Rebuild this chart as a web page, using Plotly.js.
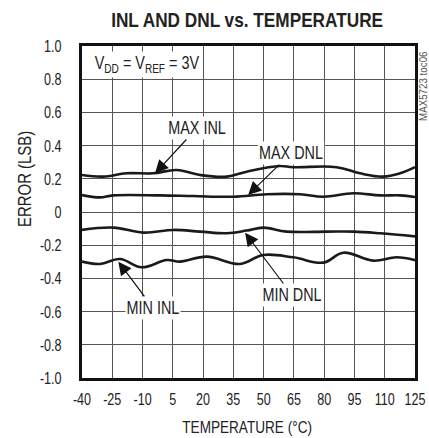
<!DOCTYPE html>
<html>
<head>
<meta charset="utf-8">
<script src="https://cdn.plot.ly/plotly-3.0.1.min.js"></script>
<style>html,body{margin:0;padding:0;background:#fff;}#chart{width:429px;height:438px;}</style>
</head>
<body>
<div id="chart"></div>
<script>
var maxInlT = [-40, -29.6, -17.9, -4.8, 6.9, 18.5, 31.7, 41.6, 58.1, 64.5, 86.2, 97.7, 109.1, 117.6, 125];
var maxInlV = [0.223, 0.213, 0.233, 0.233, 0.253, 0.223, 0.213, 0.243, 0.277, 0.27, 0.27, 0.233, 0.213, 0.233, 0.27];

var maxDnlT = [-40, -31.1, -24.5, -1.3, 15.2, 35.0, 51.5, 68.0, 79.6, 94.5, 107.7, 117.6, 125];
var maxDnlV = [0.102, 0.088, 0.10, 0.10, 0.096, 0.092, 0.107, 0.107, 0.092, 0.113, 0.10, 0.10, 0.09];

var minDnlT = [-40, -24.5, -9.6, 5.3, 18.5, 31.7, 41.6, 49.8, 61.4, 81.2, 94.5, 107.7, 125];
var minDnlV = [-0.108, -0.094, -0.124, -0.108, -0.118, -0.128, -0.112, -0.094, -0.118, -0.118, -0.118, -0.128, -0.147];

var minInlT = [-40, -31.1, -21.2, -10.4, 2.0, 8.6, 21.8, 38.3, 49.8, 64.7, 79.6, 89.5, 104.3, 115.9, 125];
var minInlV = [-0.299, -0.313, -0.283, -0.333, -0.289, -0.299, -0.269, -0.313, -0.259, -0.273, -0.305, -0.245, -0.293, -0.273, -0.29];

var xTicks = [-40, -25, -10, 5, 20, 35, 50, 65, 80, 95, 110, 125];
var yTicks = [1.0, 0.8, 0.6, 0.4, 0.2, 0, -0.2, -0.4, -0.6, -0.8, -1.0];
var yTickText = ['1.0', '0.8', '0.6', '0.4', '0.2', '0', '-0.2', '-0.4', '-0.6', '-0.8', '-1.0'];

var FONT = '"Liberation Sans", Arial, sans-serif';
var INK = '#222';

function curve(t, v, name) {
  return {
    x: t, y: v, name: name, type: 'scatter', mode: 'lines',
    line: {color: '#1a1a1a', width: 2.6, shape: 'spline', smoothing: 1.1},
    hoverinfo: 'skip', showlegend: false
  };
}

var data = [
  curve(maxInlT, maxInlV, 'MAX INL'),
  curve(maxDnlT, maxDnlV, 'MAX DNL'),
  curve(minDnlT, minDnlV, 'MIN DNL'),
  curve(minInlT, minInlV, 'MIN INL')
];

// label text placed at (tx, ty), arrow pointing to (hx, hy)
function label(text, hx, hy, tx, ty) {
  return {x: hx, y: hy, ax: tx, ay: ty, xref: 'x', yref: 'y', axref: 'x', ayref: 'y',
    text: text, showarrow: true, arrowhead: 2, arrowsize: 2.2, arrowwidth: 1.2, arrowcolor: '#111', standoff: 0,
    font: {family: FONT, size: 18, color: INK}, bgcolor: '#fff', borderpad: 1,
    xanchor: 'center', yanchor: 'middle'};
}

var layout = {
  width: 429, height: 438,
  margin: {l: 82, r: 14, t: 46, b: 60},
  paper_bgcolor: '#fff', plot_bgcolor: '#fff',
  font: {family: FONT, size: 16, color: INK},
  title: {text: 'INL AND DNL vs. TEMPERATURE', x: 0.576, xanchor: 'center', y: 0.955, yanchor: 'middle',
    font: {family: FONT, size: 20.5, weight: 'bold', color: INK}},
  xaxis: {
    range: [-40, 125], tickvals: xTicks, ticktext: xTicks.map(String),
    showgrid: true, gridcolor: '#555', gridwidth: 1,
    showline: true, linecolor: '#111', linewidth: 3, mirror: true,
    ticks: 'outside', ticklen: 4, tickcolor: 'rgba(0,0,0,0)', ticklabeloverflow: 'allow',
    zeroline: false, tickfont: {family: FONT, size: 17, color: INK}
  },
  yaxis: {
    range: [-1, 1], tickvals: yTicks, ticktext: yTickText,
    showgrid: true, gridcolor: '#555', gridwidth: 1,
    showline: true, linecolor: '#111', linewidth: 3, mirror: true,
    ticks: 'outside', ticklen: 14, tickcolor: 'rgba(0,0,0,0)', ticklabeloverflow: 'allow',
    zeroline: false, tickfont: {family: FONT, size: 17, color: INK}
  },
  annotations: [
    {xref: 'paper', yref: 'paper', x: -0.172, y: 0.599, text: 'ERROR (LSB)', textangle: -90, showarrow: false,
      font: {family: FONT, size: 18, color: INK}, xanchor: 'center', yanchor: 'middle'},
    {xref: 'paper', yref: 'paper', x: 0.4955, y: -0.1476, text: 'TEMPERATURE (°C)', showarrow: false,
      font: {family: FONT, size: 17, color: INK}, xanchor: 'center', yanchor: 'middle'},
    {xref: 'paper', yref: 'paper', x: 1.025, y: 0.88, text: 'MAX5723 toc06', textangle: -90, showarrow: false,
      font: {family: FONT, size: 11.5, color: '#555'}, xanchor: 'center', yanchor: 'middle'},
    {xref: 'x', yref: 'y', x: -34.6, y: 0.886, text: 'V<sub>DD</sub> = V<sub>REF</sub> = 3V', showarrow: false,
      font: {family: FONT, size: 18, color: INK}, bgcolor: '#fff', xanchor: 'left', yanchor: 'middle'},
    label('MAX INL', -3.8, 0.233, 17.0, 0.506),
    label('MAX DNL', 42.3, 0.102, 63.6, 0.355),
    label('MIN DNL', 40.8, -0.125, 64.1, -0.5),
    label('MIN INL', -22.0, -0.299, -4.8, -0.578)
  ]
};

// horizontal compression so the sans font reads like the reference's condensed face
function squeeze(el, s, cx) {
  var tr = el.getAttribute('transform') || '';
  el.setAttribute('transform', tr + ' translate(' + cx + ',0) scale(' + s + ',1) translate(' + (-cx) + ',0)');
}

Plotly.newPlot('chart', data, layout, {staticPlot: true, displayModeBar: false}).then(function (gd) {
  gd.querySelectorAll('text').forEach(function (t) {
    if (t.closest('.annotation')) return;
    var s = 0.74;
    if (t.classList.contains('gtitle')) s = 0.84;
    var cx = parseFloat(t.getAttribute('x')) || 0;
    squeeze(t, s, cx);
  });
  gd.querySelectorAll('.annotation').forEach(function (a) {
    var g = a.querySelector('.annotation-text-g');
    if (!g) return;
    var idx = parseInt(a.getAttribute('data-index'), 10);
    var b = g.getBBox();
    var s = 0.8;
    if (idx === 0) s = 0.83;
    if (idx === 2) s = 0.85;
    var cx = (idx === 3) ? b.x : b.x + b.width / 2;
    squeeze(g, s, cx);
  });
});
</script>
</body>
</html>
